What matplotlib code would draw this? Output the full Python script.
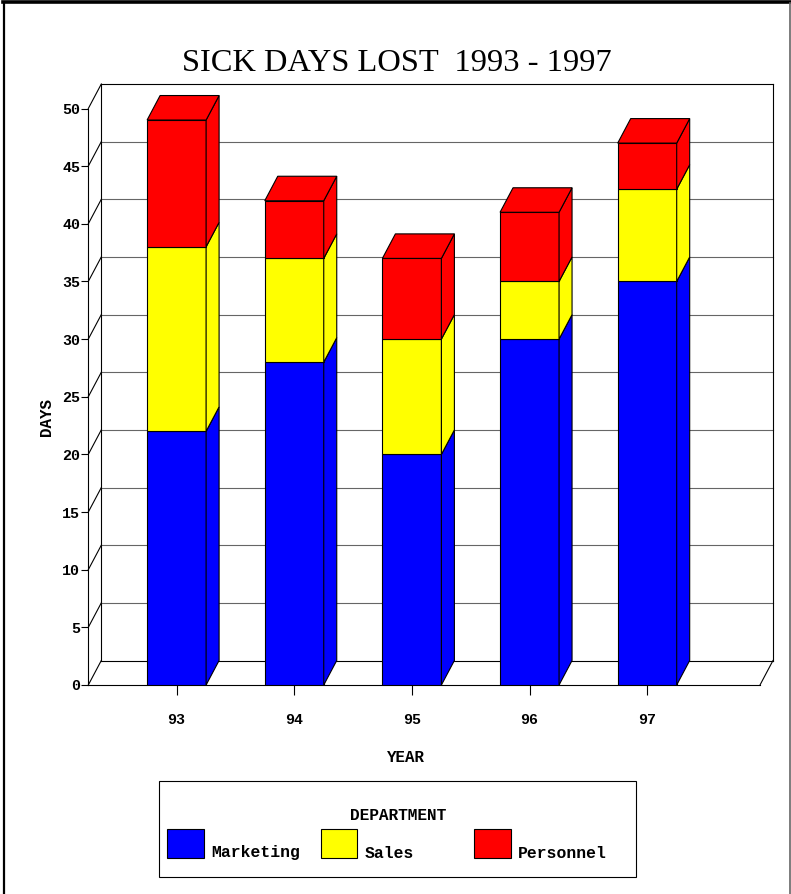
import matplotlib
matplotlib.use("Agg")
import matplotlib.pyplot as plt
from matplotlib.patches import Rectangle, Polygon

years = ["93", "94", "95", "96", "97"]
marketing = [22, 28, 20, 30, 35]
sales = [16, 9, 10, 5, 8]
personnel = [11, 5, 7, 6, 4]
series = [("Marketing", marketing, "#0000ff"),
          ("Sales", sales, "#ffff00"),
          ("Personnel", personnel, "#ff0000")]
yticks = list(range(0, 55, 5))

W, H = 791, 894
fig = plt.figure(figsize=(W / 100, H / 100), dpi=100, facecolor="white")
LW = 0.8
MONO = "Liberation Mono"

# main axes: pixel box of the front plane
L, R, B, T = 88.3, 760.0, 685.0, 108.5
ax = fig.add_axes([L / W, 1 - B / H, (R - L) / W, (B - T) / H], facecolor="none")
pitch = 117.65
first = 176.6
xmin = (L - first) / pitch
xmax = (R - first) / pitch
ax.set_xlim(xmin, xmax)
ax.set_ylim(0, 50)
DX = 13 / pitch
DY = 24.5 / ((B - T) / 50)
BAR = 59 / pitch

for s in ("top", "right"):
    ax.spines[s].set_visible(False)
for s in ("left", "bottom"):
    ax.spines[s].set_linewidth(LW)
    ax.spines[s].set_zorder(3)
ax.set_yticks(yticks)
ax.set_xticks(range(len(years)))
ax.set_xticklabels(years)
ax.tick_params(axis="y", length=5, width=LW, pad=0.8, labelsize=10.8)
ax.tick_params(axis="x", length=7, width=LW, pad=13, labelsize=10.8)
for lab in ax.get_xticklabels() + ax.get_yticklabels():
    lab.set_family(MONO)
    lab.set_weight("bold")

# walls and floor
for v in yticks:
    c = "black" if v in (0, 50) else "#666666"
    ax.plot([xmin + DX, xmax + DX], [v + DY, v + DY], color=c, lw=LW, clip_on=False, zorder=1)
    ax.plot([xmin, xmin + DX], [v, v + DY], color="black", lw=LW, clip_on=False, zorder=1)
ax.plot([xmin + DX, xmin + DX], [DY, 50 + DY], color="black", lw=LW, clip_on=False, zorder=1)
ax.plot([xmax + DX, xmax + DX], [DY, 50 + DY], color="black", lw=LW, clip_on=False, zorder=1)
ax.plot([xmax, xmax + DX], [0, DY], color="black", lw=LW, clip_on=False, zorder=1)

# 3D stacked bars
for i in range(len(years)):
    base = 0
    x0, x1 = i - BAR / 2, i + BAR / 2
    for name, vals, col in series:
        top = base + vals[i]
        ax.add_patch(Rectangle((x0, base), BAR, vals[i], fc=col, ec="black", lw=LW, zorder=4))
        ax.add_patch(Polygon([(x1, base), (x1 + DX, base + DY), (x1 + DX, top + DY), (x1, top)],
                             fc=col, ec="black", lw=LW, zorder=4, clip_on=False))
        base = top
    ax.add_patch(Polygon([(x0, base), (x0 + DX, base + DY), (x1 + DX, base + DY), (x1, base)],
                         fc=col, ec="black", lw=LW, zorder=4, clip_on=False))

# chrome in pixel coordinates
ov = fig.add_axes([0, 0, 1, 1], facecolor="none")
ov.set_xlim(0, W)
ov.set_ylim(H, 0)
ov.axis("off")
ov.plot([3.5, 3.5], [H, 3], color="black", lw=1.6)
ov.plot([3, W], [2, 2], color="black", lw=2.6)
ov.plot([790, 790], [3, H], color="#666666", lw=1.2)

ov.text(397, 71, "SICK DAYS LOST  1993 - 1997", ha="center", va="baseline",
        family="Liberation Serif", fontsize=23.4)
ov.text(406, 757, "YEAR", ha="center", va="center", family=MONO, weight="bold", fontsize=11.4)
ov.text(47, 417, "DAYS", ha="center", va="center", rotation=90, family=MONO, weight="bold", fontsize=11.4)

# legend
ov.add_patch(Rectangle((159.2, 781), 476.5, 96, fc="white", ec="black", lw=LW))
ov.text(398.5, 815, "DEPARTMENT", ha="center", va="center", family=MONO, weight="bold", fontsize=11.6)
for (name, vals, col), sx in zip(series, (167, 320.5, 473.7)):
    ov.add_patch(Rectangle((sx, 829), 36.8, 29, fc=col, ec="black", lw=LW))
    ov.text(sx + 44, 857.5, name, ha="left", va="baseline", family=MONO, weight="bold", fontsize=11.8)

fig.savefig("out.png", dpi=100)
